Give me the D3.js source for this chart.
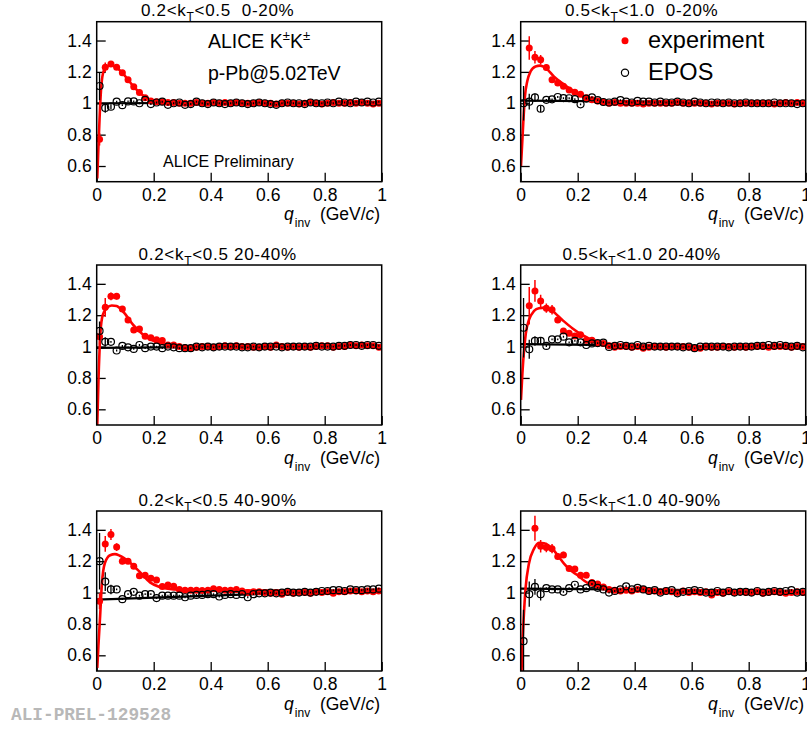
<!DOCTYPE html>
<html>
<head>
<meta charset="utf-8">
<script src="https://cdn.jsdelivr.net/npm/d3@7"></script>
<style>
  body { margin: 0; background: #fff; }
  svg { display: block; font-family: "Liberation Sans", Arial, Helvetica, sans-serif; }
  text { white-space: pre; }
</style>
</head>
<body>
<svg id="chart" width="807" height="729"></svg>
<script>
// q_inv bin centres (GeV/c)
const qBins = [0.01,0.03,0.05,0.07,0.09,0.11,0.13,0.15,0.17,0.19,
               0.21,0.23,0.25,0.27,0.29,0.31,0.33,0.35,0.37,0.39,
               0.41,0.43,0.45,0.47,0.49,0.51,0.53,0.55,0.57,0.59,
               0.61,0.63,0.65,0.67,0.69,0.71,0.73,0.75,0.77,0.79,
               0.81,0.83,0.85,0.87,0.89,0.91,0.93,0.95,0.97,0.99];

const xTicks = [0, 0.2, 0.4, 0.6, 0.8, 1];
const yTicks = [0.6, 0.8, 1, 1.2, 1.4];

// ---- 0.2<kT<0.5, 0-20%
const expA1 = [0.77,1.23,1.25,1.23,1.195,1.15,1.105,1.068,1.035,1.015,
               1.01,1.01,1.005,1.005,1.0,1.0,1.0,1.005,1.0,1.0,
               1.005,1.0,1.005,1.0,1.005,1.0,1.0,1.0,1.005,1.0,
               1.0,0.995,1.0,1.0,1.0,0.995,1.0,1.005,1.0,0.995,
               1.0,1.005,1.0,1.0,1.005,1.0,1.005,1.0,0.995,1.0];
const expErrA1 = [0.04,0.03,0.015,0.01];
const eposA1 = [1.11,0.97,0.978,1.01,0.988,1.012,1.012,1.0,1.022,0.995,
                1.005,1.01,0.99,1.0,1.005,0.99,0.995,1.01,1.0,0.995,
                1.005,1.0,0.995,1.0,1.005,1.0,0.995,1.0,1.005,1.0,
                0.995,0.99,1.0,1.005,1.0,1.0,0.995,1.005,1.0,1.0,
                1.005,1.0,1.01,1.005,1.0,1.01,1.005,1.01,1.005,1.01];
const eposErrA1 = [0.09,0.03,0.015];
const fitExpA1 = [[0.002,0.52],[0.006,0.72],[0.01,0.9],[0.015,1.08],[0.022,1.19],[0.033,1.232],
                  [0.05,1.242],[0.07,1.228],[0.093,1.187],[0.128,1.11],[0.164,1.048],[0.2,1.016],
                  [0.25,1.004],[0.3,1.0],[1.0,1.0]];
const fitEposA1 = [[0,1.0],[1,1.005]];

// ---- 0.5<kT<1.0, 0-20%
const expB1 = [null,1.352,1.293,1.277,1.228,1.15,1.13,1.108,1.085,1.07,
               1.058,1.035,1.023,1.015,1.008,1.0,1.005,1.0,1.0,1.0,
               1.0,0.995,1.0,1.0,1.0,1.0,1.0,1.005,1.0,1.0,
               1.0,1.0,1.0,0.995,1.0,1.0,1.0,0.995,1.0,1.0,
               1.0,1.0,1.0,1.0,0.995,1.0,1.005,1.0,1.005,1.0];
const expErrB1 = [0,0.075,0.04,0.03,0.02,0.015];
const eposB1 = [1.0,1.01,1.037,0.965,1.022,1.025,1.04,1.033,1.032,1.026,
                0.993,1.03,1.038,1.02,1.008,1.005,1.01,1.02,1.01,1.005,
                1.015,1.01,1.01,1.005,1.01,1.005,1.005,1.01,1.005,1.0,
                1.01,1.005,1.0,1.005,1.005,1.0,1.005,1.0,1.0,1.005,
                1.0,1.0,1.0,1.0,1.005,1.0,1.0,1.0,0.995,1.0];
const eposErrB1 = [0.11,0.05,0.025,0.02];
const fitExpB1 = [[0.001,0.6],[0.009,0.875],[0.015,1.045],[0.023,1.14],[0.035,1.204],[0.052,1.235],
                  [0.068,1.24],[0.088,1.225],[0.117,1.17],[0.152,1.12],[0.187,1.076],[0.222,1.04],
                  [0.257,1.02],[0.3,1.006],[0.4,1.0],[1.0,1.0]];
const fitEposB1 = [[0,1.017],[1,1.003]];

// ---- 0.2<kT<0.5, 20-40%
const expA2 = [1.063,1.25,1.32,1.32,1.24,1.17,1.105,1.112,1.065,1.056,
               1.044,1.038,1.01,1.01,1.0,0.992,0.99,0.995,1.0,1.0,
               0.995,1.0,1.005,1.0,1.005,1.0,1.0,0.995,0.995,1.0,
               0.995,1.01,1.0,0.995,1.0,0.995,1.0,0.995,1.0,1.005,
               1.005,0.995,1.0,1.0,1.01,1.005,1.01,1.005,1.005,0.995];
const expErrA2 = [0.05,0.06,0.025,0.02];
const eposA2 = [1.10,1.03,1.03,0.975,1.004,0.995,0.985,1.01,0.99,1.0,
                1.0,0.99,1.0,0.995,0.99,0.99,0.99,1.0,0.995,1.0,
                0.995,1.0,1.0,1.0,1.0,0.995,0.995,1.0,0.995,1.0,
                1.0,1.0,0.995,1.0,1.0,1.0,1.0,1.0,1.005,1.0,
                1.0,1.0,1.005,1.005,1.01,1.01,1.005,1.01,1.01,1.005];
const eposErrA2 = [0.06,0.03];
const fitExpA2 = [[0.002,0.5],[0.006,0.77],[0.013,1.085],[0.021,1.2],[0.035,1.244],[0.053,1.262],
                  [0.07,1.258],[0.093,1.222],[0.128,1.138],[0.164,1.074],[0.199,1.036],[0.234,1.015],
                  [0.28,1.002],[0.4,0.998],[1.0,1.005]];
const fitEposA2 = [[0,0.992],[1,1.005]];

// ---- 0.5<kT<1.0, 20-40%
const expB2 = [null,1.26,1.355,1.29,1.245,1.235,1.17,1.10,1.085,1.068,
               1.075,1.04,1.04,1.02,1.02,1.005,0.995,1.0,1.0,0.995,
               1.0,0.99,0.995,1.0,1.0,0.995,1.0,1.0,1.0,0.995,
               0.99,0.99,1.0,0.995,0.995,1.0,1.0,0.995,1.0,0.995,
               1.0,1.0,1.0,0.995,1.0,1.0,1.0,0.995,1.0,1.0];
const expErrB2 = [0,0.12,0.07,0.04,0.03,0.03,0.02,0.015];
const eposB2 = [1.12,0.983,1.036,1.036,1.004,1.046,1.046,1.063,1.027,1.036,
                1.027,1.01,1.02,1.022,1.025,0.998,1.005,1.01,1.005,1.0,
                1.01,1.0,1.005,1.0,1.0,1.0,1.0,1.0,0.995,1.0,
                0.99,1.0,1.0,1.0,1.0,1.0,0.995,1.0,1.0,1.0,
                1.0,1.005,1.005,1.01,1.005,1.01,1.005,1.0,1.005,0.995];
const eposErrB2 = [0.19,0.06,0.03,0.025];
const fitExpB2 = [[0.001,0.66],[0.006,0.83],[0.012,0.98],[0.018,1.085],[0.029,1.17],[0.047,1.227],
                  [0.064,1.244],[0.088,1.248],[0.111,1.227],[0.146,1.17],[0.181,1.117],[0.216,1.074],
                  [0.251,1.042],[0.298,1.02],[0.368,1.01],[0.5,1.003],[1.0,0.997]];
const fitEposB2 = [[0,1.015],[1,0.997]];

// ---- 0.2<kT<0.5, 40-90%
const expA3 = [0.945,1.31,1.37,1.29,1.2,1.2,1.167,1.108,1.11,1.092,
               1.08,1.038,1.048,1.04,1.02,1.015,1.015,1.015,1.013,1.015,
               1.025,1.02,1.015,1.015,1.02,1.01,1.0,1.005,1.005,1.0,
               0.995,1.0,0.99,1.0,0.995,1.0,1.0,0.995,1.005,1.0,
               1.005,0.995,1.005,1.005,1.01,1.01,1.005,1.01,1.005,1.01];
const expErrA3 = [0.05,0.05,0.035,0.025,0.02];
const eposA3 = [1.20,1.07,1.02,1.02,0.958,0.99,1.005,0.98,0.99,0.99,
                0.965,0.98,0.98,0.98,0.98,0.97,0.98,0.985,0.985,0.99,
                0.99,0.975,0.985,0.99,0.985,0.99,0.97,0.99,0.995,0.995,
                1.0,0.995,1.0,1.005,1.0,1.0,1.005,1.0,1.005,1.01,
                1.01,1.015,1.015,1.01,1.02,1.015,1.015,1.02,1.02,1.025];
const eposErrA3 = [0.18,0.06,0.03];
const fitExpA3 = [[0.002,0.52],[0.006,0.66],[0.012,0.85],[0.018,1.05],[0.029,1.19],[0.047,1.238],
                  [0.064,1.245],[0.081,1.235],[0.117,1.19],[0.152,1.13],[0.187,1.065],[0.222,1.035],
                  [0.27,1.02],[0.4,1.013],[0.7,1.012],[1.0,1.015]];
const fitEposA3 = [[0,0.955],[1,1.017]];

// ---- 0.5<kT<1.0, 40-90%
const expB3 = [null,null,1.41,1.295,1.287,1.28,1.23,1.24,1.153,1.15,
               1.11,1.11,1.064,1.054,1.036,1.02,1.015,1.01,1.015,1.01,
               1.02,1.02,1.01,1.01,1.005,1.01,1.005,1.0,1.01,1.0,
               1.005,1.0,1.005,0.985,1.0,0.995,1.005,1.0,1.005,1.0,
               1.0,1.005,0.995,1.0,1.005,1.0,0.995,1.0,1.005,1.0];
const expErrB3 = [0,0,0.08,0.04,0.03,0.03,0.02,0.02];
const eposB3 = [0.69,0.99,1.036,0.99,1.028,1.02,1.02,1.005,1.028,1.05,
                1.02,1.028,1.055,1.03,1.02,1.0,1.01,1.02,1.04,1.02,
                1.03,1.02,1.01,1.015,1.0,1.01,1.015,0.995,1.005,1.01,
                1.015,1.01,1.0,1.0,1.01,1.0,1.01,1.0,1.005,1.005,
                1.0,1.01,1.0,1.005,1.01,1.005,1.01,1.015,1.0,1.005];
const eposErrB3 = [0.2,0.08,0.05,0.04];
const fitExpB3 = [[0.003,0.5],[0.005,0.62],[0.011,0.855],[0.017,1.025],[0.029,1.185],[0.047,1.28],
                  [0.064,1.318],[0.082,1.315],[0.105,1.29],[0.129,1.24],[0.152,1.185],[0.176,1.14],
                  [0.2,1.11],[0.223,1.075],[0.246,1.05],[0.28,1.03],[0.33,1.02],[0.45,1.012],[1.0,1.008]];
const fitEposB3 = [[0,1.025],[1,1.01]];

const titleParts = [
  ["0.2<k", "T", "<0.5  0-20%"], ["0.5<k", "T", "<1.0  0-20%"],
  ["0.2<k", "T", "<0.5 20-40%"], ["0.5<k", "T", "<1.0 20-40%"],
  ["0.2<k", "T", "<0.5 40-90%"], ["0.5<k", "T", "<1.0 40-90%"]
];

// ---- layout
const colLeft = [96.7, 520.7];
const rowTop = [21.7, 265, 511];
const PW = 285, PH = 160;
const RED = "#ff0000";
const LABEL_SIZE = 17.5;

const panels = [
  {col:0,row:0,exp:expA1,expErr:expErrA1,epos:eposA1,eposErr:eposErrA1,fitExp:fitExpA1,fitEpos:fitEposA1,title:titleParts[0]},
  {col:1,row:0,exp:expB1,expErr:expErrB1,epos:eposB1,eposErr:eposErrB1,fitExp:fitExpB1,fitEpos:fitEposB1,title:titleParts[1]},
  {col:0,row:1,exp:expA2,expErr:expErrA2,epos:eposA2,eposErr:eposErrA2,fitExp:fitExpA2,fitEpos:fitEposA2,title:titleParts[2]},
  {col:1,row:1,exp:expB2,expErr:expErrB2,epos:eposB2,eposErr:eposErrB2,fitExp:fitExpB2,fitEpos:fitEposB2,title:titleParts[3]},
  {col:0,row:2,exp:expA3,expErr:expErrA3,epos:eposA3,eposErr:eposErrA3,fitExp:fitExpA3,fitEpos:fitEposA3,title:titleParts[4]},
  {col:1,row:2,exp:expB3,expErr:expErrB3,epos:eposB3,eposErr:eposErrB3,fitExp:fitExpB3,fitEpos:fitEposB3,title:titleParts[5]}
];

const svg = d3.select("#chart");
const fmt = d3.format("~g");
const minorX = d3.range(0, 1.0001, 0.05).map(v => +v.toFixed(2));
const minorY = d3.range(0.5, 1.5001, 0.05).map(v => +v.toFixed(2));

function toPoints(values, errs, defErr) {
  return qBins.map((q, i) => ({q, v: values[i], e: (errs[i] !== undefined && errs[i] > 0) ? errs[i] : defErr}))
              .filter(d => d.v !== null);
}

panels.forEach((p, idx) => {
  const px = colLeft[p.col], py = rowTop[p.row];
  const x = d3.scaleLinear().domain([0, 1]).range([px, px + PW]);
  const y = d3.scaleLinear().domain([0.5, 1.52]).range([py + PH, py]);
  const g = svg.append("g");

  const clipId = "clip" + idx;
  svg.append("clipPath").attr("id", clipId)
    .append("rect").attr("x", px).attr("y", py).attr("width", PW).attr("height", PH);

  // axes: ticks drawn inward
  const gx = g.append("g").attr("transform", `translate(0,${py + PH})`);
  gx.call(d3.axisBottom(x).tickValues(minorX).tickSize(-5).tickFormat(""));
  gx.call(d3.axisBottom(x).tickValues(xTicks).tickSize(-9).tickPadding(7).tickFormat(fmt));
  const gy = g.append("g").attr("transform", `translate(${px},0)`);
  gy.call(d3.axisLeft(y).tickValues(minorY).tickSize(-5).tickFormat(""));
  gy.call(d3.axisLeft(y).tickValues(yTicks).tickSize(-9).tickPadding(5).tickFormat(fmt));
  g.selectAll(".domain").remove();
  g.selectAll(".tick line").attr("stroke", "#000").attr("stroke-width", 1.3);
  g.selectAll(".tick text").attr("font-family", "Liberation Sans, Arial, sans-serif")
    .attr("font-size", LABEL_SIZE).attr("fill", "#000");

  // fit curves
  const line = d3.line().x(d => x(d[0])).y(d => y(d[1])).curve(d3.curveMonotoneX);
  const curves = g.append("g").attr("clip-path", `url(#${clipId})`);
  curves.append("path").attr("d", line(p.fitEpos)).attr("fill", "none")
    .attr("stroke", "#000").attr("stroke-width", 2.2);
  curves.append("path").attr("d", line(p.fitExp)).attr("fill", "none")
    .attr("stroke", RED).attr("stroke-width", 2.6);

  // experiment points
  const ePts = toPoints(p.exp, p.expErr, 0.006);
  const eg = g.append("g").attr("clip-path", `url(#${clipId})`);
  eg.selectAll("line.err").data(ePts).join("line")
    .attr("x1", d => x(d.q)).attr("x2", d => x(d.q))
    .attr("y1", d => y(d.v - d.e)).attr("y2", d => y(d.v + d.e))
    .attr("stroke", RED).attr("stroke-width", 1.5);
  eg.selectAll("circle").data(ePts).join("circle")
    .attr("cx", d => x(d.q)).attr("cy", d => y(d.v)).attr("r", 3.5).attr("fill", RED);

  // EPOS points
  const mPts = toPoints(p.epos, p.eposErr, 0.006);
  const mg = g.append("g").attr("clip-path", `url(#${clipId})`);
  mg.selectAll("line").data(mPts).join("line")
    .attr("x1", d => x(d.q)).attr("x2", d => x(d.q))
    .attr("y1", d => y(d.v - d.e)).attr("y2", d => y(d.v + d.e))
    .attr("stroke", "#000").attr("stroke-width", 1.3);
  mg.selectAll("circle").data(mPts).join("circle")
    .attr("cx", d => x(d.q)).attr("cy", d => y(d.v)).attr("r", 3.5)
    .attr("fill", "#fff").attr("fill-opacity", 0.0)
    .attr("stroke", "#000").attr("stroke-width", 1.2);

  // frame
  g.append("rect").attr("x", px).attr("y", py).attr("width", PW).attr("height", PH)
    .attr("fill", "none").attr("stroke", "#000").attr("stroke-width", 1.5);

  // panel title
  const t = g.append("text").attr("x", px + 121).attr("y", py - 5.5)
    .attr("text-anchor", "middle").attr("font-size", 17).attr("letter-spacing", 0.7);
  t.append("tspan").text(p.title[0]);
  t.append("tspan").attr("font-size", 12).attr("dy", 5).text(p.title[1]);
  t.append("tspan").attr("dy", -5).text(p.title[2]);

  // x-axis title
  const xt = g.append("text").attr("x", px + PW - 1.5).attr("y", py + PH + 38.5)
    .attr("text-anchor", "end").attr("font-size", LABEL_SIZE);
  xt.append("tspan").attr("font-style", "italic").text("q");
  xt.append("tspan").attr("font-size", 12).attr("dy", 7).attr("dx", 1).text("inv");
  xt.append("tspan").attr("dy", -7).text("  (GeV/");
  xt.append("tspan").attr("font-style", "italic").text("c");
  xt.append("tspan").text(")");
});

// collaboration labels in the first panel
const lab = svg.append("text").attr("x", 208).attr("y", 48.3).attr("font-size", 19.5);
lab.append("tspan").text("ALICE K");
lab.append("tspan").attr("font-size", 13).attr("dy", -8).text("±");
lab.append("tspan").attr("dy", 8).text("K");
lab.append("tspan").attr("font-size", 13).attr("dy", -8).text("±");
svg.append("text").attr("x", 208).attr("y", 80).attr("font-size", 19.5).text("p-Pb@5.02TeV");
svg.append("text").attr("x", 163).attr("y", 166.7).attr("font-size", 16).text("ALICE Preliminary");

// legend
const legendItems = [
  {label: "experiment", filled: true, y: 40.7},
  {label: "EPOS", filled: false, y: 72.7}
];
const lg = svg.append("g");
legendItems.forEach(it => {
  if (it.filled) {
    lg.append("circle").attr("cx", 625).attr("cy", it.y).attr("r", 3.5).attr("fill", RED);
  } else {
    lg.append("circle").attr("cx", 625).attr("cy", it.y).attr("r", 3.6)
      .attr("fill", "none").attr("stroke", "#000").attr("stroke-width", 1.2);
  }
  lg.append("text").attr("x", 648).attr("y", it.y + 7.5).attr("font-size", 23.5).text(it.label);
});

// figure identifier
svg.append("text").attr("x", 11).attr("y", 720)
  .attr("font-family", "Liberation Mono, Courier New, monospace")
  .attr("font-weight", "bold").attr("font-size", 17.8).attr("fill", "#b8b8b8")
  .text("ALI-PREL-129528");
</script>
</body>
</html>
